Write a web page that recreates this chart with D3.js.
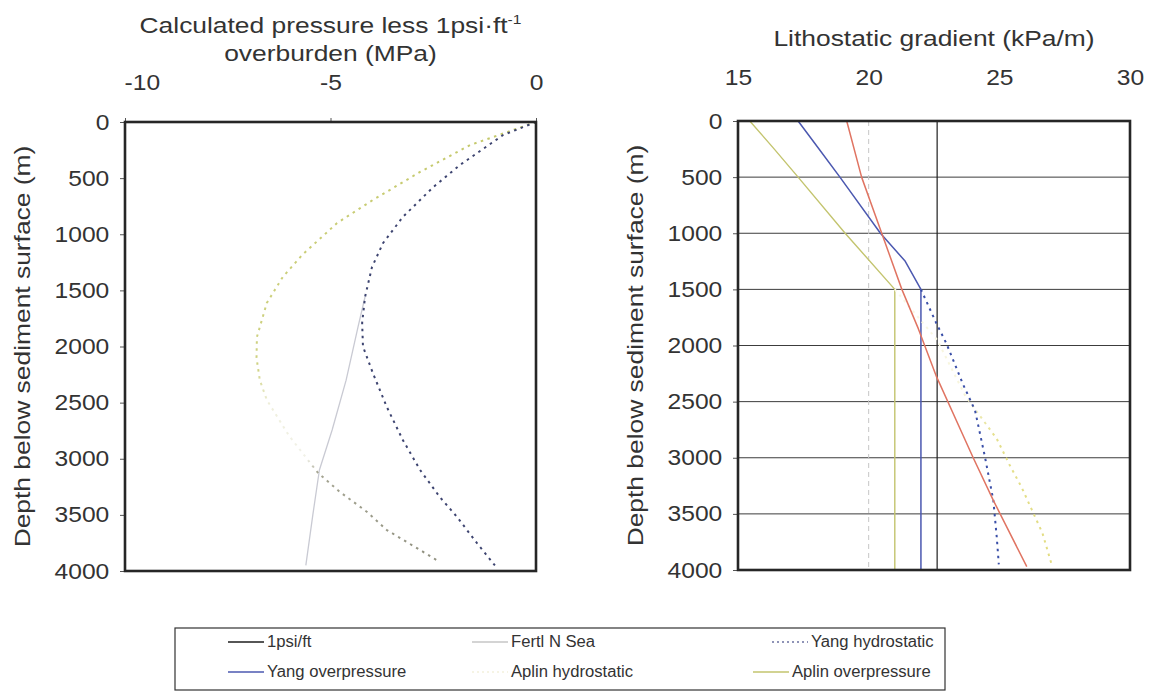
<!DOCTYPE html>
<html>
<head>
<meta charset="utf-8">
<script src="https://cdn.jsdelivr.net/npm/d3@7"></script>
<style>
  html, body { margin: 0; padding: 0; background: #ffffff; }
  svg { display: block; font-family: "Liberation Sans", Arial, sans-serif; }
</style>
</head>
<body>
<svg id="chart" width="1157" height="695"></svg>
<script>
// ---- tick values ----
const depthTicks = [0, 500, 1000, 1500, 2000, 2500, 3000, 3500, 4000];
const pressureTicks = [-10, -5, 0];
const gradientTicks = [15, 20, 25, 30];

// ---- left panel: calculated pressure less 1 psi/ft overburden, [depth m, MPa] ----
const yangHydroPressure = [[0, 0], [116, -0.8], [383, -1.85], [580, -2.5], [846, -3.24], [1078, -3.72],
  [1292, -3.99], [1559, -4.16], [1790, -4.23], [2000, -4.21], [2236, -3.97], [2539, -3.63],
  [2833, -3.24], [3100, -2.82], [3341, -2.34], [3519, -1.92], [3750, -1.44], [3950, -1.0]];
const yangOverPressure = [[1559, -4.16], [1826, -4.33], [2300, -4.62], [2744, -4.96], [3100, -5.27],
  [3500, -5.43], [3950, -5.6]];
const aplinHydroPressure = [[0, 0], [205, -1.6], [445, -2.82], [695, -3.97], [900, -4.84], [1185, -5.69],
  [1380, -6.16], [1613, -6.55], [1915, -6.79], [2100, -6.8], [2300, -6.72], [2476, -6.55],
  [2800, -6.0], [3127, -5.3], [3296, -4.77], [3474, -4.11], [3635, -3.63], [3813, -2.82], [3920, -2.34]];

// ---- right panel: lithostatic gradient, [depth m, kPa/m] ----
const onePsiGradient = [[0, 22.62], [4000, 22.62]];
const fertlGradient = [[0, 20.0], [4000, 20.0]];
const yangOverGradient = [[0, 17.3], [250, 18.1], [500, 18.9], [1000, 20.45], [1250, 21.4], [1500, 22.0], [4000, 22.0]];
const yangHydroGradient = [[1500, 22.0], [1807, 22.6], [1985, 22.98], [2340, 23.6], [2578, 24.07],
  [2993, 24.45], [3378, 24.77], [3704, 24.9], [3950, 24.98]];
const aplinOverGradient = [[0, 15.45], [237, 16.34], [500, 17.3], [1000, 19.1], [1500, 21.0], [4000, 21.0]];
const aplinHydroGradient = [[1500, 21.0], [1950, 22.62], [2450, 23.7], [2830, 24.9], [3067, 25.4],
  [3262, 25.85], [3467, 26.25], [3671, 26.65], [3950, 27.0]];
const seaTrendGradient = [[0, 19.16], [500, 19.73], [1000, 20.5], [1500, 21.27], [1850, 21.9],
  [2280, 22.6], [3000, 24.0], [3380, 24.77], [3970, 26.05]];

// ---- legend ----
const legendLabels = ["1psi/ft", "Fertl N Sea", "Yang hydrostatic", "Yang overpressure", "Aplin hydrostatic", "Aplin overpressure"];

// ---- drawing ----
const svg = d3.select("#chart");
const INK = "#333333";
const SX = 1.12;   // tick glyph widening
const SXT = 1.2;   // axis-title glyph widening
const SXG = 1.04;  // legend glyph widening

const xL = d3.scaleLinear().domain([-10, 0]).range([125, 536]);
const yL = d3.scaleLinear().domain([0, 4000]).range([122, 571]);
const xR = d3.scaleLinear().domain([15, 30]).range([738, 1130]);
const yR = d3.scaleLinear().domain([0, 4000]).range([121, 570]);

function label(x, y, txt, size, anchor = "middle", rot = 0, sx = SX) {
  return svg.append("text")
    .attr("transform", `translate(${x},${y}) rotate(${rot}) scale(${sx},1)`)
    .attr("text-anchor", anchor)
    .attr("font-size", size)
    .attr("fill", INK)
    .text(txt);
}

function styleAxis(g, size) {
  g.select(".domain").remove();
  g.selectAll(".tick line").attr("stroke", "#555").attr("stroke-width", 1);
  g.selectAll(".tick text")
    .attr("font-size", size)
    .attr("fill", INK)
    .attr("font-family", "Liberation Sans, Arial, sans-serif")
    .attr("transform", `scale(${SX},1)`);
}

const fmt = d => String(d);

// Left panel axes
svg.append("g").attr("transform", "translate(125,0)")
  .call(d3.axisLeft(yL).tickValues(depthTicks).tickSize(5).tickPadding(9).tickFormat(fmt))
  .call(g => styleAxis(g, 22));
svg.append("g").attr("transform", "translate(0,122)")
  .call(d3.axisTop(xL).tickValues(pressureTicks).tickSize(4).tickPadding(28).tickFormat(fmt))
  .call(g => styleAxis(g, 22))
  .call(g => g.selectAll(".tick text").filter(d => d === -10).attr("dx", 15));

// Right panel axes
svg.append("g").attr("transform", "translate(738,0)")
  .call(d3.axisLeft(yR).tickValues(depthTicks).tickSize(5).tickPadding(9).tickFormat(fmt))
  .call(g => styleAxis(g, 22));
svg.append("g").attr("transform", "translate(0,121)")
  .call(d3.axisTop(xR).tickValues(gradientTicks).tickSize(0).tickPadding(36).tickFormat(fmt))
  .call(g => styleAxis(g, 22));

// Right panel horizontal gridlines
svg.append("g").selectAll("line")
  .data(depthTicks.slice(1, -1))
  .join("line")
  .attr("x1", xR(15)).attr("x2", xR(30))
  .attr("y1", d => yR(d)).attr("y2", d => yR(d))
  .attr("stroke", "#3c3c3c").attr("stroke-width", 1);

// Vertical fades for the pale hydrostatic curves
const defs = svg.append("defs");
function fade(id, y0, y1, stops) {
  const gr = defs.append("linearGradient").attr("id", id)
    .attr("gradientUnits", "userSpaceOnUse")
    .attr("x1", 0).attr("x2", 0).attr("y1", y0).attr("y2", y1);
  stops.forEach(([o, c]) => gr.append("stop").attr("offset", o).attr("stop-color", c));
}
fade("aplinLeftFade", yL(0), yL(4000), [
  [0, "#c4c86a"], [0.55, "#cfd283"], [0.63, "#efefdc"], [0.75, "#f1f1e8"], [0.78, "#a5a592"], [1, "#8e8e7e"]]);
fade("aplinRightFade", yR(0), yR(4000), [
  [0, "#fbfbf2"], [0.6, "#f7f5dc"], [0.7, "#e4df8c"], [1, "#e2dc80"]]);

const lineL = d3.line().x(d => xL(d[1])).y(d => yL(d[0]));
const lineR = d3.line().x(d => xR(d[1])).y(d => yR(d[0]));

function draw(gen, data, stroke, width, dash) {
  svg.append("path").datum(data)
    .attr("d", gen)
    .attr("fill", "none")
    .attr("stroke", stroke)
    .attr("stroke-width", width)
    .attr("stroke-dasharray", dash || null)
    .attr("stroke-linejoin", "round");
}

// Left panel curves
draw(lineL, yangOverPressure, "#c9cad3", 1.3);
draw(lineL, aplinHydroPressure, "url(#aplinLeftFade)", 2, "2.5,4.5");
draw(lineL, yangHydroPressure, "#3d4470", 2, "2.5,4.5");

// Right panel curves
draw(lineR, fertlGradient, "#c6c6c6", 1, "5,4");
draw(lineR, aplinOverGradient, "#c3c46e", 1.4);
draw(lineR, yangOverGradient, "#4b58b0", 1.5);
draw(lineR, onePsiGradient, "#1e1e1e", 1.2);
draw(lineR, aplinHydroGradient, "url(#aplinRightFade)", 2, "2.5,4.5");
draw(lineR, yangHydroGradient, "#3a4fa8", 2, "2.5,4.5");
draw(lineR, seaTrendGradient, "#e07462", 1.5);

// Frames
[[xL, yL], [xR, yR]].forEach(([x, y]) => {
  const [x0, x1] = x.range(), [y0, y1] = y.range();
  svg.append("rect")
    .attr("x", x0).attr("y", y0).attr("width", x1 - x0).attr("height", y1 - y0)
    .attr("fill", "none").attr("stroke", "#262626").attr("stroke-width", 2.6);
});

// Axis titles
const t1 = svg.append("text")
  .attr("transform", `translate(${xL(-5)},33) scale(${SXT},1)`)
  .attr("text-anchor", "middle").attr("font-size", 22).attr("fill", INK);
t1.append("tspan").text("Calculated pressure less 1psi\u00B7ft");
t1.append("tspan").attr("font-size", 13).attr("dy", -9).text("-1");
label(xL(-5), 61, "overburden (MPa)", 22, "middle", 0, SXT);
label(xR(22.5), 46, "Lithostatic gradient (kPa/m)", 22, "middle", 0, SXT);
label(30, yL(2000), "Depth below sediment surface (m)", 22, "middle", -90, SXT);
label(643, yR(2000), "Depth below sediment surface (m)", 22, "middle", -90, SXT);

// Legend
svg.append("rect").attr("x", 175).attr("y", 628).attr("width", 770).attr("height", 62)
  .attr("fill", "#fff").attr("stroke", "#333").attr("stroke-width", 1.2);
const legendStyles = [
  { stroke: "#1e1e1e" }, { stroke: "#c6c6c6" }, { stroke: "#6b72a0", dash: "2,3" },
  { stroke: "#4b58b0" }, { stroke: "#f3f1dc", dash: "2,3" }, { stroke: "#c3c46e" }
];
const swatchX = [228, 472, 772, 228, 472, 753];
const rowY = [647, 677];
legendLabels.forEach((name, i) => {
  const cx = swatchX[i], cy = rowY[Math.floor(i / 3)];
  const st = legendStyles[i];
  svg.append("line").attr("x1", cx).attr("x2", cx + 36).attr("y1", cy - 5).attr("y2", cy - 5)
    .attr("stroke", st.stroke).attr("stroke-width", 1.5).attr("stroke-dasharray", st.dash || null);
  label(cx + 39, cy, name, 16, "start", 0, SXG);
});
</script>
</body>
</html>
